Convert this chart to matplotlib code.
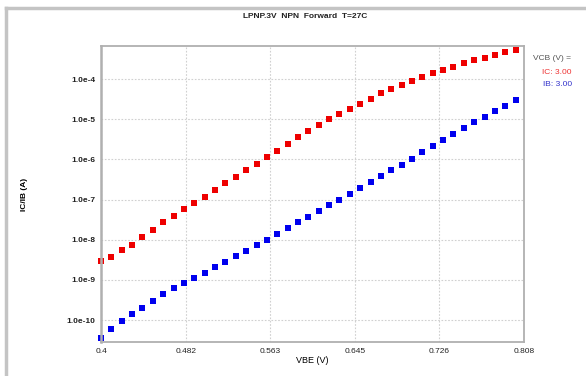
import numpy as np
import matplotlib
matplotlib.use('Agg')
import matplotlib.pyplot as plt
from matplotlib.lines import Line2D

# VBE sweep (V)
vbe = [round(0.40 + 0.01 * i, 2) for i in range(41)]

# log10 of currents
ic_log = [-8.53, -8.42, -8.26, -8.12, -7.93, -7.76, -7.57, -7.41, -7.24, -7.09,
          -6.93, -6.76, -6.59, -6.43, -6.27, -6.11, -5.94, -5.78, -5.62, -5.45,
          -5.29, -5.15, -5.00, -4.88, -4.74, -4.62, -4.49, -4.36, -4.26, -4.15,
          -4.04, -3.96, -3.86, -3.78, -3.70, -3.61, -3.53, -3.47, -3.40, -3.33,
          -3.27]
ib_log = [-10.45, -10.22, -10.02, -9.85, -9.71, -9.53, -9.36, -9.21, -9.08, -8.95,
          -8.82, -8.68, -8.55, -8.41, -8.27, -8.13, -8.01, -7.85, -7.70, -7.55,
          -7.43, -7.28, -7.14, -7.01, -6.86, -6.71, -6.57, -6.42, -6.27, -6.13,
          -5.99, -5.82, -5.67, -5.53, -5.38, -5.23, -5.08, -4.94, -4.79, -4.66,
          -4.53]

ic = [10 ** v for v in ic_log]
ib = [10 ** v for v in ib_log]

x_ticks = [0.4, 0.482, 0.563, 0.645, 0.726, 0.808]
x_labels = ['0.4', '0.482', '0.563', '0.645', '0.726', '0.808']
y_ticks = [1e-10, 1e-9, 1e-8, 1e-7, 1e-6, 1e-5, 1e-4]
y_labels = ['1.0e-10', '1.0e-9', '1.0e-8', '1.0e-7', '1.0e-6', '1.0e-5', '1.0e-4']

plt.rcParams['font.family'] = ['Liberation Sans', 'DejaVu Sans']

fig = plt.figure(figsize=(5.86, 3.76), dpi=100)

# outer gray frame (top and left edges visible)
fig.add_artist(Line2D([6 / 586, 1.0], [1 - 8 / 376, 1 - 8 / 376],
                      transform=fig.transFigure, color='#c4c4c4', lw=2.5))
fig.add_artist(Line2D([6 / 586, 6 / 586], [0.0, 1 - 8 / 376],
                      transform=fig.transFigure, color='#c4c4c4', lw=2.5))

ax = fig.add_axes([101 / 586, 34 / 376, 423 / 586, 296 / 376])

rect = [(-1.2, -0.9), (1.2, -0.9), (1.2, 0.9), (-1.2, 0.9), (-1.2, -0.9)]
ax.plot(vbe, ic, linestyle='none', marker=rect, markersize=5,
        color='#ee0000', markeredgewidth=0, clip_on=False)
ax.plot(vbe, ib, linestyle='none', marker=rect, markersize=5,
        color='#0000ee', markeredgewidth=0, clip_on=False)

ax.set_yscale('log')
ax.set_xlim(0.4, 0.808)
ax.set_ylim(10 ** -10.547, 10 ** -3.178)

ax.set_xticks(x_ticks)
ax.set_xticklabels(x_labels)
ax.set_yticks(y_ticks)
ax.set_yticklabels(y_labels)
ax.minorticks_off()
ax.tick_params(length=0, labelsize=6, pad=4, colors='#222222')
for lbl in ax.get_yticklabels():
    lbl.set_fontweight('bold')

ax.grid(True, linestyle=(0, (1.5, 1.5)), color='#d0d0d0', linewidth=0.8)
ax.set_axisbelow(True)
for sp in ax.spines.values():
    sp.set_color('#b0b0b0')
    sp.set_linewidth(1.3)
ax.spines['left'].set_linewidth(1.8)

ax.set_xlabel('VBE (V)', fontsize=6.5, labelpad=1)
ax.set_ylabel('IC/IB (A)', fontsize=6, fontweight='bold', labelpad=28)

fig.text(305 / 586, 1 - 17 / 376, 'LPNP.3V  NPN  Forward  T=27C',
         fontsize=6, fontweight='bold', ha='center', va='center', color='#222222')

fig.text(533 / 586, 1 - 58 / 376, 'VCB (V) =', fontsize=6, ha='left', va='center',
         color='#555555')
fig.text(572 / 586, 1 - 72 / 376, 'IC: 3.00', fontsize=6, ha='right', va='center',
         color='#ee3333')
fig.text(572 / 586, 1 - 85 / 376, 'IB: 3.00', fontsize=6, ha='right', va='center',
         color='#3333cc')

fig.savefig('out.png', dpi=100)
